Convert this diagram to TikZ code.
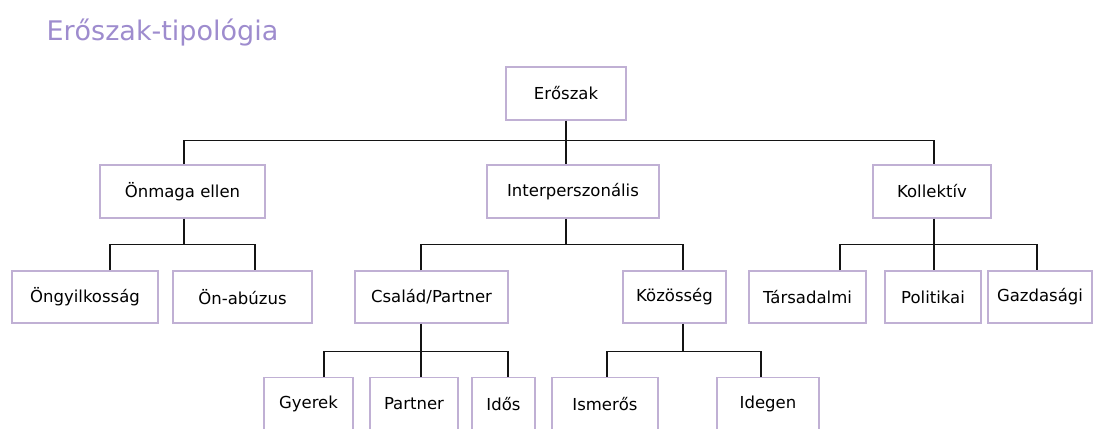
\documentclass[tikz,border=0pt]{standalone}
\usepackage{fontspec}
\newfontfamily\boxfont{DejaVu Sans}
\definecolor{boxline}{RGB}{192,176,212}
\definecolor{titlecol}{RGB}{158,140,206}
\definecolor{linecol}{RGB}{20,20,20}
\tikzset{
    box/.style={draw=boxline, line width=1.2pt, minimum height=53pt, inner sep=0pt,
        font=\boxfont\fontsize{16.5}{20}\selectfont},
    link/.style={draw=linecol, line width=1.6pt}
}
\begin{document}
\begin{tikzpicture}[x=1pt, y=-1pt]
        \useasboundingbox (0,0) rectangle (1099,428);
        \clip (0,0) rectangle (1099,428);
        \node[anchor=base west, text=titlecol, font=\boxfont\fontsize{27}{30}\selectfont] (title) at (43,41) {Erőszak-tipológia};
        % top level
        \node[box, minimum width=120pt] (root) at (566,93.5) {Erőszak};
        \node[box, minimum width=165pt] (self) at (182.5,191.5) {Önmaga ellen};
        \node[box, minimum width=172pt] (inter) at (573,191.5) {Interperszonális};
        \node[box, minimum width=118pt] (coll) at (932,191.5) {Kollektív};
        % second level
        \node[box, minimum width=146pt, minimum height=52pt] (suic) at (85,297) {Öngyilkosság};
        \node[box, minimum width=139pt, minimum height=52pt] (abuse) at (242.5,297) {Ön-abúzus};
        \node[box, minimum width=153pt, minimum height=52pt] (fam) at (431.5,297) {Család/Partner};
        \node[box, minimum width=103pt, minimum height=52pt] (comm) at (674.5,297) {Közösség};
        \node[box, minimum width=117pt, minimum height=52pt] (soc) at (807.5,297) {Társadalmi};
        \node[box, minimum width=96pt, minimum height=52pt] (pol) at (933,297) {Politikai};
        \node[box, minimum width=104pt, minimum height=52pt] (econ) at (1040,297) {Gazdasági};
        % third level
        \node[box, minimum width=89pt] (child) at (308.5,404) {Gyerek};
        \node[box, minimum width=88pt] (partner) at (414,404) {Partner};
        \node[box, minimum width=63pt] (elder) at (503.5,404) {Idős};
        \node[box, minimum width=106pt] (acq) at (605,404) {Ismerős};
        \node[box, minimum width=102pt] (stranger) at (768,404) {Idegen};
        % connectors
        \draw[link] (root.south) -- ++(0,20) coordinate (j0);
        \draw[link] ([xshift=1.5pt]self.north) |- (j0) -| ([xshift=2pt]coll.north);
        \draw[link] (j0) -- ([xshift=-7pt]inter.north);
        \draw[link] ([xshift=1.5pt]self.south) -- ++(0,26) coordinate (j1);
        \draw[link] ([xshift=25pt]suic.north) |- (j1) -| ([xshift=12.5pt]abuse.north);
        \draw[link] ([xshift=-7pt]inter.south) -- ++(0,26) coordinate (j2);
        \draw[link] ([xshift=-10.5pt]fam.north) |- (j2) -| ([xshift=8.5pt]comm.north);
        \draw[link] ([xshift=2pt]coll.south) -- ++(0,26) coordinate (j3);
        \draw[link] ([xshift=32.5pt]soc.north) |- (j3) -| ([xshift=-3pt]econ.north);
        \draw[link] (j3) -- ([xshift=1pt]pol.north);
        \draw[link] ([xshift=-10.5pt]fam.south) -- ++(0,28) coordinate (j4);
        \draw[link] ([xshift=15.5pt]child.north) |- (j4) -| ([xshift=4.5pt]elder.north);
        \draw[link] (j4) -- ([xshift=7pt]partner.north);
        \draw[link] ([xshift=8.5pt]comm.south) -- ++(0,28) coordinate (j5);
        \draw[link] ([xshift=2pt]acq.north) |- (j5) -| ([xshift=-7pt]stranger.north);
    \end{tikzpicture}
\end{document}
